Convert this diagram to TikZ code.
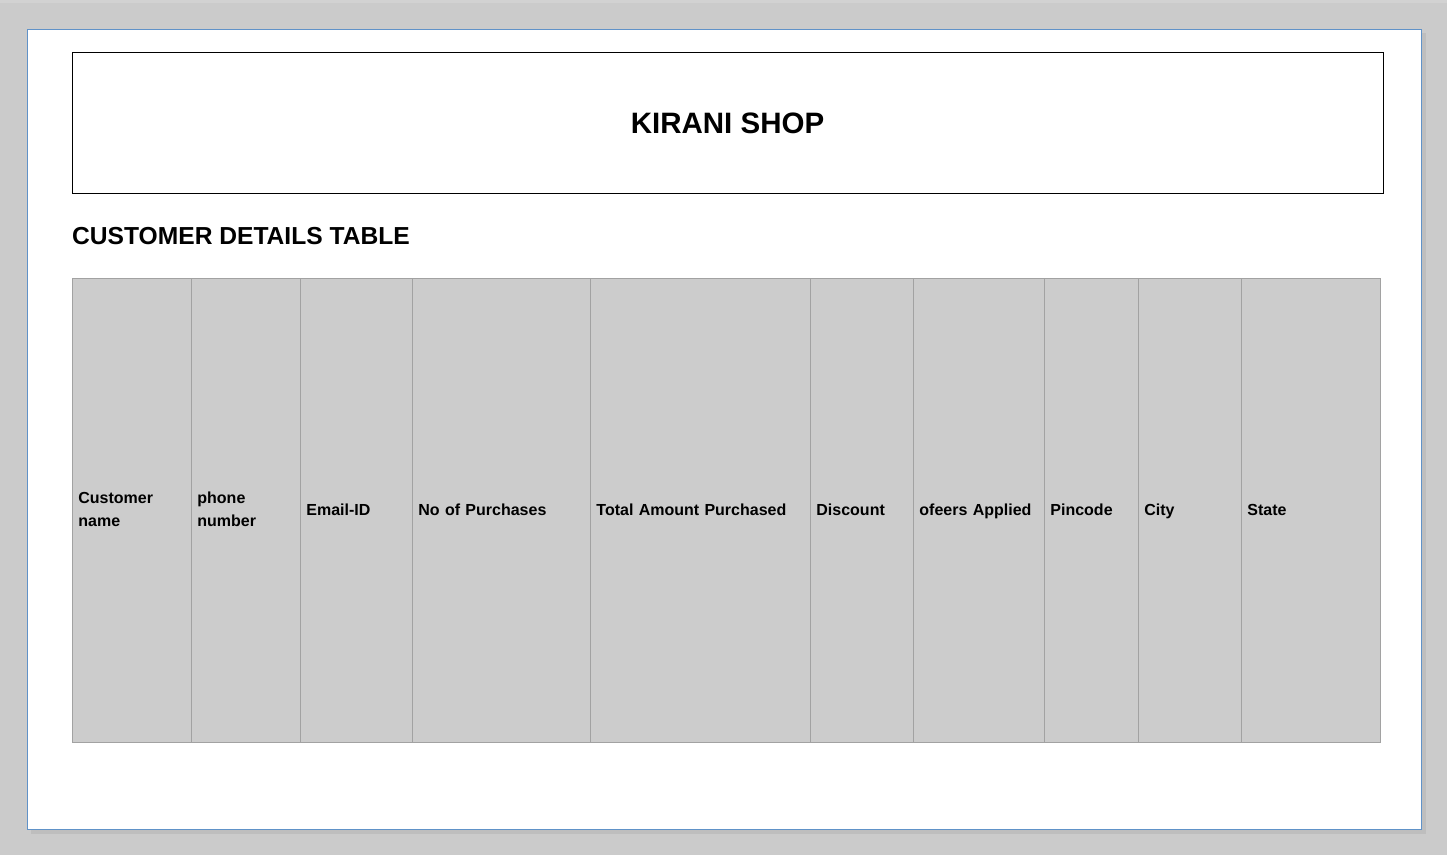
\documentclass[tikz,border=0pt]{standalone}
\usepackage{fontspec}
\setmainfont{Liberation Sans}
\definecolor{bgray}{HTML}{CBCBCB}
\definecolor{pageline}{RGB}{96,146,200}
\definecolor{cellfill}{HTML}{CCCCCC}
\definecolor{cellline}{HTML}{A2A2A2}
\begin{document}
\begin{tikzpicture}[x=1pt,y=-1pt,
  cellbox/.style={draw=cellline, fill=cellfill, line width=0.8pt, anchor=north west,
    minimum height=464pt, inner sep=6pt, align=left,
    execute at begin node=\strut, execute at end node=\strut,
    font=\fontsize{16}{23}\selectfont\bfseries},
  titlebox/.style={draw=black, line width=1pt, minimum width=1311pt, minimum height=141pt, inner sep=0pt},
]
\useasboundingbox (0,0) rectangle (1447,855);
\fill[bgray] (0,0) rectangle (1447,855);
\fill[gray!35] (0,0) rectangle (1447,3);
\fill[black!30,opacity=0.5] (31,33) rectangle (1426,834);
\node[draw=pageline, fill=white, line width=1pt, anchor=north west, minimum width=1394pt, minimum height=800pt, inner sep=0pt] (page) at (27,29) {};
\node[titlebox] (title) at (727.5,122.5) {};
\node[anchor=base, font=\fontsize{29.5}{30}\selectfont\bfseries] (titletext) at (727.5,133) {KIRANI SHOP};
\node[anchor=base west, inner sep=0pt, font=\fontsize{24.6}{26}\selectfont\bfseries] (subtitle) at (72,244) {CUSTOMER DETAILS TABLE};
\node[cellbox, minimum width=119pt, text width=107pt] (c1) at (72,278) {Customer\\name};
\node[cellbox, minimum width=109pt, text width=97pt] (c2) at (191,278) {phone\\number};
\node[cellbox, minimum width=112pt, text width=100pt] (c3) at (300,278) {Email-ID};
\node[cellbox, minimum width=178pt, text width=166pt] (c4) at (412,278) {No of Purchases};
\node[cellbox, minimum width=220pt, text width=208pt] (c5) at (590,278) {Total Amount Purchased};
\node[cellbox, minimum width=103pt, text width=91pt] (c6) at (810,278) {Discount};
\node[cellbox, minimum width=131pt, text width=119pt] (c7) at (913,278) {ofeers Applied};
\node[cellbox, minimum width=94pt, text width=82pt] (c8) at (1044,278) {Pincode};
\node[cellbox, minimum width=103pt, text width=91pt] (c9) at (1138,278) {City};
\node[cellbox, minimum width=139pt, text width=127pt] (c10) at (1241,278) {State};
\end{tikzpicture}
\end{document}
